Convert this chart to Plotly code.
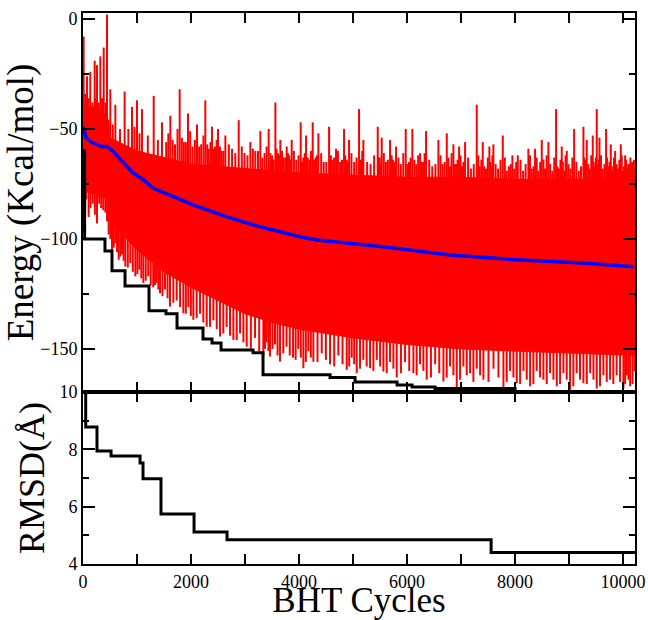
import numpy as np
import plotly.graph_objects as go

# ---------------- data ----------------
# solid core of the red (instantaneous energy) trace
core_x = [0, 250, 450, 500, 1000, 1500, 2000, 2500, 3000, 3500, 4000, 5000, 6000, 7000, 8000, 9000, 10220]
core_top = [-40, -40, -44, -54, -60, -63, -66, -67, -68, -69, -70, -71, -72, -72, -73, -73, -73]
core_bot = [-78, -80, -82, -92, -105, -115, -122, -128, -134, -138, -141, -145, -148, -150, -151, -152, -153]

# tall upward spikes of the red trace
red_top_x = [0, 12, 40, 74, 105, 135, 175, 216, 238, 259, 290, 321, 352, 383, 414, 444, 475, 506, 552, 599,
             685, 771, 840, 907, 953, 1000, 1046, 1093, 1200, 1309, 1386, 1463, 1540, 1617, 1703, 1790, 1867,
             1944, 2027, 2111, 2188, 2265, 2327, 2389, 2444, 2500, 2568, 2636, 2760, 2883, 2990, 3099, 3190,
             3284, 3361, 3438, 3500, 3562, 3608, 3654, 3713, 3772, 3818, 3864, 3948, 4031, 4080, 4130, 4190,
             4253, 4305, 4358, 4457, 4556, 4620, 4685, 4760, 4833, 4880, 4926, 5020, 5111, 5150, 5191, 5324,
             5457, 5494, 5531, 5608, 5685, 5740, 5796, 5885, 5975, 6036, 6098, 6170, 6241, 6296, 6352, 6466,
             6580, 6657, 6735, 6796, 6858, 6910, 6963, 7018, 7074, 7182, 7290, 7345, 7401, 7462, 7524, 7561,
             7598, 7685, 7772, 7846, 7920, 7985, 8050, 8148, 8246, 8308, 8370, 8432, 8494, 8555, 8617, 8688,
             8759, 8811, 8864, 8910, 8957, 9025, 9093, 9179, 9265, 9296, 9327, 9382, 9438, 9475, 9512, 9537,
             9562, 9623, 9685, 9728, 9772, 9812, 9852, 9905, 9957, 9997, 10037, 10077, 10117, 10148, 10179, 10215]
red_top_y = [-40, -8, -34, -26, -36, -24, -38, -19, -36, -21, -38, -17, -36, -13, -38, 2, -46, -32, -48, -39,
             -50, -33, -50, -40, -49, -37, -52, -41, -53, -35, -55, -47, -56, -44, -57, -32, -56,
             -43, -58, -48, -57, -37, -59, -49, -58, -50, -60, -53, -59, -46, -61, -56, -60,
             -51, -61, -50, -62, -38, -61, -55, -63, -58, -62, -55, -64, -47, -63, -53, -64,
             -47, -63, -52, -65, -49, -64, -59, -65, -50, -64, -55, -65, -41, -64, -55, -66,
             -49, -63, -54, -65, -55, -64, -58, -66, -50, -65, -50, -66, -61, -65, -51, -67,
             -55, -66, -52, -67, -57, -66, -58, -67, -56, -68, -39, -67, -56, -68, -58, -67,
             -57, -68, -53, -69, -66, -68, -62, -69, -59, -68, -59, -69, -55, -68, -56, -69,
             -41, -68, -58, -69, -60, -68, -50, -69, -49, -67, -55, -68, -53, -67, -41, -66,
             -54, -68, -50, -67, -57, -69, -60, -68, -57, -69, -62, -68, -66, -69, -66, -67]

# medium upward spikes filling the fringe
red_mid_x = [1580, 1660, 1750, 1830, 1905, 1985, 2070, 2150, 2230, 2300,
             2360, 2420, 2475, 2535, 2600, 2700, 2820, 2940, 3045, 3145,
             3240, 3320, 3400, 3470, 3530, 3585, 3630, 3685, 3745, 3795,
             3840, 3905, 3990, 4055, 4105, 4160, 4220, 4280, 4330, 4410,
             4505, 4590, 4650, 4720, 4795, 4855, 4905, 4970, 5065, 5130,
             5170, 5260, 5390, 5475, 5510, 5570, 5645, 5715, 5770, 5840,
             5930, 6005, 6065, 6135, 6205, 6270, 6325, 6410, 6525, 6620,
             6695, 6765, 6825, 6885, 6935, 6990, 7045, 7130, 7235, 7320,
             7375, 7430, 7495, 7545, 7580, 7640, 7730, 7810, 7885, 7950,
             8020, 8100, 8195, 8275, 8340, 8400, 8465, 8525, 8585, 8650,
             8725, 8785, 8840, 8885, 8935, 8990, 9060, 9135, 9220, 9280,
             9310, 9355, 9410, 9455, 9495, 9525, 9550, 9590, 9655, 9705,
             9750, 9790, 9830, 9880, 9930, 9975, 10015, 10055, 10095, 10135,
             10165, 10200]
red_mid_y = [-52, -55, -50, -54, -56, -51, -55, -58, -53, -57,
             -56, -59, -55, -58, -60, -57, -61, -58, -62, -59,
             -60, -63, -58, -61, -64, -59, -62, -60, -63, -61,
             -64, -60, -62, -65, -61, -63, -60, -64, -62, -61,
             -65, -62, -63, -60, -64, -62, -65, -61, -63, -64,
             -60, -65, -62, -63, -66, -61, -64, -62, -65, -63,
             -61, -66, -63, -64, -62, -65, -61, -64, -66, -62,
             -65, -63, -61, -66, -64, -62, -65, -63, -66, -62,
             -64, -67, -63, -65, -62, -66, -64, -63, -67, -62,
             -65, -64, -66, -62, -67, -63, -65, -64, -62, -66,
             -63, -67, -64, -65, -62, -66, -63, -65, -67, -63,
             -64, -66, -62, -65, -63, -67, -64, -62, -66, -63,
             -65, -67, -63, -66, -64, -62, -67, -64, -66, -63,
             -65, -64]

# downward spikes of the red trace
red_bot_x = [20, 40, 60, 105, 140, 180, 220, 259, 300, 336, 375, 413, 445, 475, 506, 537, 570, 600, 630, 661,
             692, 722, 753, 784, 830, 876, 922, 969, 1006, 1043, 1080, 1117, 1162, 1208, 1254, 1300, 1332,
             1363, 1395, 1426, 1472, 1518, 1565, 1611, 1673, 1735, 1797, 1858, 1904, 1950, 1997, 2043, 2105,
             2167, 2228, 2290, 2352, 2414, 2476, 2537, 2598, 2660, 2722, 2784, 2846, 2908, 2970, 3031, 3108,
             3185, 3262, 3339, 3370, 3400, 3432, 3463, 3509, 3555, 3602, 3648, 3708, 3768, 3828, 3889, 3937,
             3985, 4032, 4080, 4126, 4172, 4218, 4265, 4342, 4420, 4497, 4574, 4651, 4728, 4805, 4883, 4929,
             4975, 5021, 5068, 5129, 5190, 5252, 5315, 5377, 5440, 5501, 5562, 5623, 5685, 5747, 5809, 5886,
             5963, 6040, 6117, 6178, 6240, 6302, 6364, 6442, 6520, 6596, 6673, 6734, 6796, 6858, 6920, 6981,
             7043, 7105, 7167, 7228, 7290, 7352, 7414, 7507, 7600, 7692, 7784, 7845, 7907, 7969, 8031, 8093,
             8155, 8216, 8278, 8339, 8400, 8462, 8524, 8586, 8648, 8710, 8772, 8833, 8895, 8956, 9018, 9079,
             9140, 9202, 9265, 9327, 9390, 9451, 9512, 9573, 9635, 9697, 9759, 9819, 9880, 9943, 10006, 10037,
             10068, 10099, 10130, 10175, 10215]
red_bot_y = [-97, -88, -82, -90, -86, -84, -89, -93, -84, -86, -87, -88, -92, -98, -100, -105, -104, -102, -106, -109.5,
             -108, -107, -110, -112.6, -113, -111, -115, -117, -116, -114, -118, -120, -119, -117, -121, -122, -121,
             -120, -123, -124.7, -126, -123, -127, -130.8, -129, -128, -131, -133.8, -134, -131, -135, -136.8, -136,
             -134, -138, -139.9, -140, -137, -141, -144.4, -143, -140, -144, -145.9, -146, -143, -147, -149, -150,
             -145, -151, -153.5, -150, -147, -151, -153.5, -150, -148, -153, -155.8, -152, -149, -153, -154, -155,
             -150, -154, -158.8, -156, -151, -154, -155.8, -156, -152, -155, -157, -158, -153, -157, -159.5, -158,
             -154, -157, -161, -159, -155, -158, -158.8, -160, -155, -158, -160.3, -161, -156, -159, -163, -161,
             -156, -160, -161, -162, -157, -160, -164, -163, -157, -161, -164.8, -163, -158, -162, -168, -164,
             -158, -162, -161, -165, -159, -162, -164, -165, -159, -163, -168, -165, -160, -163, -165.6, -166,
             -160, -164, -167, -166, -160, -163, -164, -166, -161, -164, -167, -166, -161, -164, -168.6, -167,
             -161, -164, -165.6, -166, -161, -164, -168, -167, -162, -165, -164, -166, -162, -165, -168, -166,
             -162, -164, -167, -166, -160]

# running average (blue)
avg_x = [0, 60, 150, 250, 350, 450, 550, 700, 926, 1111, 1300, 1600, 2037, 2667, 3278, 4019, 4333,
         5556, 6796, 8037, 9259, 10200]
avg_y = [-49, -54, -56, -57, -58, -58, -60, -64, -70, -73, -77, -80, -84.5, -90, -94.5, -99, -100.5,
         -103.6, -107.3, -109.5, -111, -112.7]

# lowest energy found so far (black step)
min_x = [0, 30, 407, 537, 778, 1222, 1537, 1741, 2222, 2389, 2556, 3148, 3333, 4574, 5037, 5815, 6093, 6519, 8000]
min_y = [-60, -100, -105.5, -114.5, -121.4, -132.7, -134, -140.5, -145.5, -147.3, -150.5, -151.8, -161.8,
         -163, -165, -166.4, -167.3, -168, -175]

# RMSD of the lowest structure (black step)
rmsd_x = [0, 50, 259, 519, 1056, 1111, 1444, 2056, 2667, 7556, 10220]
rmsd_y = [10.2, 8.78, 7.94, 7.77, 7.52, 6.97, 5.74, 5.12, 4.85, 4.40, 4.40]

energy_ticks = [0, -50, -100, -150]
rmsd_ticks = [4, 6, 8, 10]
cycle_ticks = [0, 2000, 4000, 6000, 8000, 10000]
cycle_labels = ["0", "2000", "4000", "6000", "8000", "10000"]


def spikes(xs, ys):
    """Vertical segments from the running-average curve out to each spike value."""
    base = np.interp(xs, avg_x, avg_y)
    sx, sy = [], []
    for x, y, b in zip(xs, ys, base):
        sx += [x, x, None]
        sy += [y, float(b), None]
    return sx, sy


# ---------------- figure ----------------
FONT = "Liberation Serif"
RED = "#ff0000"
fig = go.Figure()

fig.add_trace(go.Scatter(
    x=core_x + core_x[::-1], y=core_top + core_bot[::-1],
    fill="toself", fillcolor=RED, mode="lines", line=dict(color=RED, width=1),
    xaxis="x", yaxis="y", hoverinfo="skip"))
for xs, ys in ((red_top_x, red_top_y), (red_mid_x, red_mid_y), (red_bot_x, red_bot_y)):
    sx, sy = spikes(xs, ys)
    fig.add_trace(go.Scatter(x=sx, y=sy, mode="lines", line=dict(color=RED, width=2),
                             xaxis="x", yaxis="y", hoverinfo="skip"))
fig.add_trace(go.Scatter(x=avg_x, y=avg_y, mode="lines", line=dict(color="#0000ff", width=3.5),
                         xaxis="x", yaxis="y"))
fig.add_trace(go.Scatter(x=min_x, y=min_y, mode="lines", line=dict(color="black", width=3, shape="hv"),
                         xaxis="x", yaxis="y"))
fig.add_trace(go.Scatter(x=rmsd_x, y=rmsd_y, mode="lines", line=dict(color="black", width=3, shape="hv"),
                         xaxis="x2", yaxis="y2"))

split = (564 - 392) / 551.0

common_x = dict(range=[0, 10220], tickvals=cycle_ticks, ticktext=cycle_labels, ticks="inside", ticklen=10,
                tickwidth=1.5, tickcolor="black", showline=True, linecolor="black", linewidth=2,
                mirror="allticks", showgrid=False, zeroline=False, automargin=False,
                minor=dict(dtick=1000, tick0=0, ticks="inside", ticklen=10, tickwidth=1.5, tickcolor="black"))
common_y = dict(ticks="inside", ticklen=12, tickwidth=1.5, tickcolor="black", showline=True,
                linecolor="black", linewidth=2, mirror="allticks", showgrid=False, zeroline=False,
                automargin=False, tickfont=dict(size=18, family=FONT))
fig.update_layout(
    width=648, height=620,
    margin=dict(l=83, r=13, t=13, b=56),
    paper_bgcolor="white", plot_bgcolor="white",
    showlegend=False,
    font=dict(family=FONT, color="black", size=18),
    xaxis=dict(**common_x, anchor="y", matches="x2", showticklabels=False),
    xaxis2=dict(**common_x, anchor="y2", tickfont=dict(size=18, family=FONT),
                title=dict(text="BHT Cycles", font=dict(size=35, family=FONT), standoff=8)),
    yaxis=dict(**common_y, domain=[split, 1], range=[-169.6, 2.7], tickvals=energy_ticks,
               minor=dict(dtick=25, tick0=0, ticks="inside", ticklen=6, tickwidth=1.5, tickcolor="black"),
               title=dict(text="Energy (Kcal/mol)", font=dict(size=37, family=FONT), standoff=3)),
    yaxis2=dict(**common_y, domain=[0, split], range=[4, 10], tickvals=rmsd_ticks,
                minor=dict(dtick=1, tick0=0, ticks="inside", ticklen=6, tickwidth=1.5, tickcolor="black"),
                title=dict(text="RMSD(Å)", font=dict(size=36, family=FONT), standoff=4)),
)

# remove the browser's default 8px page margin so the 648x620 figure fills the window exactly
fig.write_html("out.html",
               config={"displayModeBar": False},
               post_script="document.body.style.margin='0';document.body.style.overflow='hidden';")
